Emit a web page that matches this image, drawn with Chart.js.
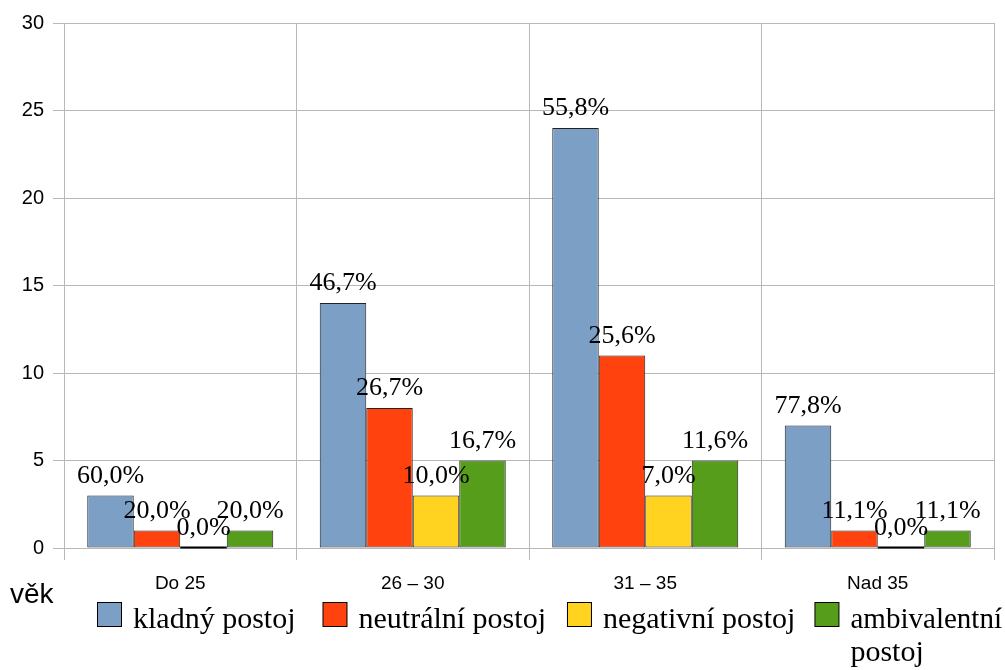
<!DOCTYPE html>
<html>
<head>
<meta charset="utf-8">
<script src="https://cdn.jsdelivr.net/npm/chart.js@4"></script>
<style>
html,body{margin:0;padding:0;background:#fff;}
#wrap{width:1005px;height:670px;}
</style>
</head>
<body>
<div id="wrap"><canvas id="c" width="1005" height="670"></canvas></div>
<script>
const categories = ["Do 25", "26 – 30", "31 – 35", "Nad 35"];
const seriesNames = ["kladný postoj", "neutrální postoj", "negativní postoj", "ambivalentní postoj"];
const kladny = [3, 14, 24, 7];
const neutralni = [1, 8, 11, 1];
const negativni = [0, 3, 3, 0];
const ambivalentni = [1, 5, 5, 1];
const kladnyPct = ["60,0%", "46,7%", "55,8%", "77,8%"];
const neutralniPct = ["20,0%", "26,7%", "25,6%", "11,1%"];
const negativniPct = ["0,0%", "10,0%", "7,0%", "0,0%"];
const ambivalentniPct = ["20,0%", "16,7%", "11,6%", "11,1%"];
const yTicks = [0, 5, 10, 15, 20, 25, 30];
const axisTitle = "věk";
const colors = ["#7c9fc6", "#ff420e", "#ffd320", "#579d1c"];

const pctLabels = [kladnyPct, neutralniPct, negativniPct, ambivalentniPct];
const values = [kladny, neutralni, negativni, ambivalentni];

const gridColor = "#b8b8b8";

const labelPlugin = {
  id: "pctLabels",
  afterDatasetsDraw(chart) {
    const ctx = chart.ctx;
    ctx.save();
    ctx.strokeStyle = "#000";
    ctx.lineWidth = 2;
    chart.data.datasets.forEach((ds, di) => {
      const meta = chart.getDatasetMeta(di);
      meta.data.forEach((el, i) => {
        if (ds.data[i] === 0) {
          const w = el.width;
          ctx.beginPath();
          ctx.moveTo(el.x - w / 2, el.base - 0.5);
          ctx.lineTo(el.x + w / 2, el.base - 0.5);
          ctx.stroke();
        }
      });
    });
    ctx.restore();
  },
  afterDraw(chart) {
    const ctx = chart.ctx;
    ctx.save();
    ctx.fillStyle = "#000";
    ctx.font = "26px 'Liberation Serif'";
    ctx.textAlign = "center";
    ctx.textBaseline = "alphabetic";
    chart.data.datasets.forEach((ds, di) => {
      const meta = chart.getDatasetMeta(di);
      meta.data.forEach((el, i) => {
        const yTop = ds.data[i] === 0 ? el.base : Math.min(el.y, el.base);
        ctx.fillText(ds.pct[i], el.x, yTop - 13);
      });
    });
    ctx.restore();

    // axis title
    ctx.save();
    ctx.fillStyle = "#000";
    ctx.font = "28px 'Liberation Sans'";
    ctx.textAlign = "left";
    ctx.textBaseline = "alphabetic";
    ctx.fillText(axisTitle, 10, 603);
    ctx.restore();

    // legend
    ctx.save();
    ctx.font = "30px 'Liberation Serif'";
    ctx.textBaseline = "alphabetic";
    ctx.textAlign = "left";
    let x = 97;
    const boxY = 602, box = 24, baseY = 628, lineH = 33;
    const gaps = [27, 21, 19];
    chart.data.datasets.forEach((ds, di) => {
      ctx.fillStyle = ds.backgroundColor;
      ctx.fillRect(x + 0.5, boxY + 0.5, box, box);
      ctx.strokeStyle = "#000";
      ctx.lineWidth = 1;
      ctx.strokeRect(x + 0.5, boxY + 0.5, box, box);
      const tx = x + 36;
      ctx.fillStyle = "#000";
      const avail = chart.width - 3 - tx;
      const words = ds.label.split(" ");
      const lines = [];
      let cur = "";
      words.forEach(w => {
        const test = cur ? cur + " " + w : w;
        if (ctx.measureText(test).width > avail && cur) { lines.push(cur); cur = w; }
        else cur = test;
      });
      lines.push(cur);
      let maxW = 0;
      lines.forEach((ln, li) => {
        const mw = ctx.measureText(ln).width;
        const sx = mw > avail ? avail / mw : 1;
        ctx.save();
        ctx.translate(tx, baseY + li * lineH);
        ctx.scale(sx, 1);
        ctx.fillText(ln, 0, 0);
        ctx.restore();
        maxW = Math.max(maxW, mw * sx);
      });
      x = tx + maxW + (gaps[di] || 20);
    });
    ctx.restore();
  }
};

new Chart(document.getElementById("c"), {
  type: "bar",
  data: {
    labels: categories,
    datasets: values.map((v, i) => ({
      label: seriesNames[i],
      data: v,
      pct: pctLabels[i],
      backgroundColor: colors[i],
      borderColor: "#222",
      borderWidth: 1,
      borderSkipped: false,
      categoryPercentage: 0.8,
      barPercentage: 1.0
    }))
  },
  options: {
    responsive: false,
    animation: false,
    events: [],
    layout: { padding: { left: 0, right: 11, top: 23, bottom: 0 } },
    plugins: { legend: { display: false }, tooltip: { enabled: false } },
    scales: {
      x: {
        grid: { color: gridColor, offset: true, tickLength: 12, lineWidth: 1 },
        border: { color: gridColor },
        ticks: { color: "#000", font: { family: "Liberation Sans", size: 19 }, padding: 12, maxRotation: 0 },
        afterFit(s) { s.height = 122; }
      },
      y: {
        min: 0, max: 30,
        z: 1,
        afterBuildTicks(s) { s.ticks = yTicks.map(v => ({ value: v })); },
        grid: { color: gridColor, tickLength: 11, lineWidth: 1 },
        border: { color: gridColor },
        ticks: { color: "#000", font: { family: "Liberation Sans", size: 20 }, padding: 9 },
        afterFit(s) { s.width = 64; }
      }
    }
  },
  plugins: [labelPlugin]
});
</script>
</body>
</html>
